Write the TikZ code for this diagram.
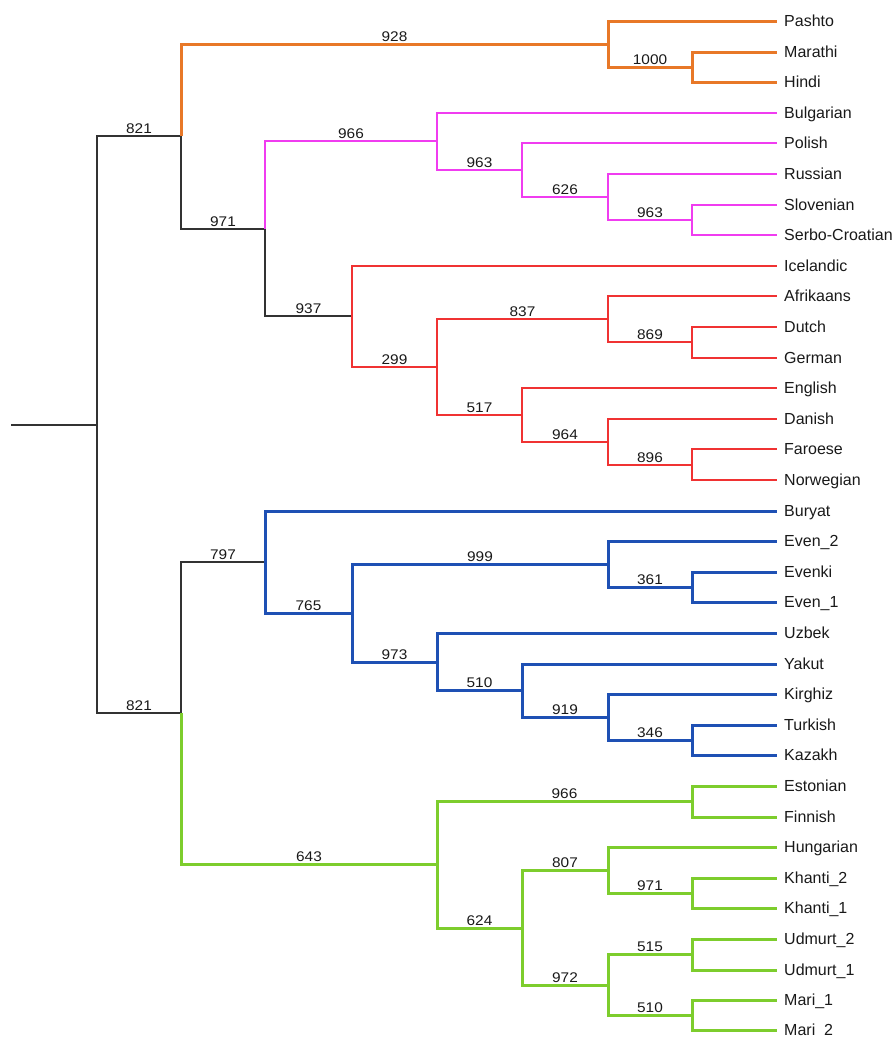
\documentclass[tikz,border=0pt]{standalone}
\usepackage{fontspec}
\setmainfont{Liberation Sans}
\newfontfamily\numfont[FakeStretch=1.1]{Liberation Sans}
\definecolor{cor}{RGB}{232,120,40}
\definecolor{cmag}{RGB}{240,60,240}
\definecolor{cred}{RGB}{240,50,50}
\definecolor{cblu}{RGB}{30,80,180}
\definecolor{cgrn}{RGB}{125,205,45}
\definecolor{cblk}{RGB}{50,50,50}
\definecolor{ctxt}{RGB}{25,25,25}
\tikzset{
  leaf/.style={anchor=west,inner xsep=7pt,inner ysep=0pt,text height=11pt,text depth=0pt,
    font=\fontsize{16}{18}\selectfont,text=ctxt},
  bs/.style={anchor=south,inner sep=1pt,font=\numfont\fontsize{14}{16}\selectfont,text=ctxt,pos=0.75},
  eblk/.style={draw=cblk,line width=2pt},
  eor/.style={draw=cor,line width=3pt},
  emag/.style={draw=cmag,line width=2pt},
  ered/.style={draw=cred,line width=2pt},
  eblu/.style={draw=cblu,line width=3pt},
  egrn/.style={draw=cgrn,line width=3pt},
}
\begin{document}
\begin{tikzpicture}[x=1pt,y=-1pt,line join=miter]
\useasboundingbox (0,0) rectangle (896,1037);
% leaves
\node[leaf] (pashto) at (777,21) {Pashto};
\node[leaf] (marathi) at (777,52) {Marathi};
\node[leaf] (hindi) at (777,82) {Hindi};
\node[leaf] (bulgarian) at (777,113) {Bulgarian};
\node[leaf] (polish) at (777,143) {Polish};
\node[leaf] (russian) at (777,174) {Russian};
\node[leaf] (slovenian) at (777,205) {Slovenian};
\node[leaf] (serbo) at (777,235) {Serbo-Croatian};
\node[leaf] (icelandic) at (777,266) {Icelandic};
\node[leaf] (afrikaans) at (777,296) {Afrikaans};
\node[leaf] (dutch) at (777,327) {Dutch};
\node[leaf] (german) at (777,358) {German};
\node[leaf] (english) at (777,388) {English};
\node[leaf] (danish) at (777,419) {Danish};
\node[leaf] (faroese) at (777,449) {Faroese};
\node[leaf] (norwegian) at (777,480) {Norwegian};
\node[leaf] (buryat) at (777,511) {Buryat};
\node[leaf] (even2) at (777,541) {Even\_2};
\node[leaf] (evenki) at (777,572) {Evenki};
\node[leaf] (even1) at (777,602) {Even\_1};
\node[leaf] (uzbek) at (777,633) {Uzbek};
\node[leaf] (yakut) at (777,664) {Yakut};
\node[leaf] (kirghiz) at (777,694) {Kirghiz};
\node[leaf] (turkish) at (777,725) {Turkish};
\node[leaf] (kazakh) at (777,755) {Kazakh};
\node[leaf] (estonian) at (777,786) {Estonian};
\node[leaf] (finnish) at (777,817) {Finnish};
\node[leaf] (hungarian) at (777,847) {Hungarian};
\node[leaf] (khanti2) at (777,878) {Khanti\_2};
\node[leaf] (khanti1) at (777,908) {Khanti\_1};
\node[leaf] (udmurt2) at (777,939) {Udmurt\_2};
\node[leaf] (udmurt1) at (777,970) {Udmurt\_1};
\node[leaf] (mari1) at (777,1000) {Mari\_1};
\node[leaf] (mari2) at (777,1030) {Mari\_2};
% internal nodes
\coordinate (stub) at (11,425);
\coordinate (root) at (97,425);
\coordinate (A) at (181,136);
\coordinate (II) at (608,44);
\coordinate (MH) at (692,67);
\coordinate (C) at (265,229);
\coordinate (Sl) at (437,141);
\coordinate (E) at (522,170);
\coordinate (F) at (608,197);
\coordinate (G) at (692,220);
\coordinate (D) at (352,316);
\coordinate (H) at (437,367);
\coordinate (I) at (608,319);
\coordinate (J) at (692,342);
\coordinate (K) at (522,415);
\coordinate (L) at (608,442);
\coordinate (M) at (692,465);
\coordinate (B) at (181,713);
\coordinate (N) at (265,562);
\coordinate (O) at (352,613);
\coordinate (P) at (608,564);
\coordinate (Q) at (692,587);
\coordinate (R) at (437,662);
\coordinate (S) at (522,690);
\coordinate (T) at (608,717);
\coordinate (U) at (692,740);
\coordinate (V) at (437,864);
\coordinate (W) at (692,801);
\coordinate (X) at (522,928);
\coordinate (Y) at (608,870);
\coordinate (Z) at (692,893);
\coordinate (AA) at (608,985);
\coordinate (BB) at (692,954);
\coordinate (CC) at (692,1015);
% black backbone
\draw[eblk] (stub) -- (root);
\draw[eblk] (root) |- node[bs]{821} (A);
\draw[eblk] (root) |- node[bs]{821} (B);
\draw[eblk] (A) |- node[bs]{971} (C);
\draw[eblk] (C) |- node[bs]{937} (D);
\draw[eblk] (B) |- node[bs]{797} (N);
% orange
\draw[eor] (A) |- node[bs]{928} (II);
\draw[eor] (II) |- (pashto.west);
\draw[eor] (II) |- node[bs]{1000} (MH);
\draw[eor] (MH) |- (marathi.west);
\draw[eor] (MH) |- (hindi.west);
% magenta
\draw[emag] (C) |- node[bs]{966} (Sl);
\draw[emag] (Sl) |- (bulgarian.west);
\draw[emag] (Sl) |- node[bs]{963} (E);
\draw[emag] (E) |- (polish.west);
\draw[emag] (E) |- node[bs]{626} (F);
\draw[emag] (F) |- (russian.west);
\draw[emag] (F) |- node[bs]{963} (G);
\draw[emag] (G) |- (slovenian.west);
\draw[emag] (G) |- (serbo.west);
% red
\draw[ered] (D) |- (icelandic.west);
\draw[ered] (D) |- node[bs]{299} (H);
\draw[ered] (H) |- node[bs]{837} (I);
\draw[ered] (I) |- (afrikaans.west);
\draw[ered] (I) |- node[bs]{869} (J);
\draw[ered] (J) |- (dutch.west);
\draw[ered] (J) |- (german.west);
\draw[ered] (H) |- node[bs]{517} (K);
\draw[ered] (K) |- (english.west);
\draw[ered] (K) |- node[bs]{964} (L);
\draw[ered] (L) |- (danish.west);
\draw[ered] (L) |- node[bs]{896} (M);
\draw[ered] (M) |- (faroese.west);
\draw[ered] (M) |- (norwegian.west);
% blue
\draw[eblu] (N) |- (buryat.west);
\draw[eblu] (N) |- node[bs]{765} (O);
\draw[eblu] (O) |- node[bs]{999} (P);
\draw[eblu] (P) |- (even2.west);
\draw[eblu] (P) |- node[bs]{361} (Q);
\draw[eblu] (Q) |- (evenki.west);
\draw[eblu] (Q) |- (even1.west);
\draw[eblu] (O) |- node[bs]{973} (R);
\draw[eblu] (R) |- (uzbek.west);
\draw[eblu] (R) |- node[bs]{510} (S);
\draw[eblu] (S) |- (yakut.west);
\draw[eblu] (S) |- node[bs]{919} (T);
\draw[eblu] (T) |- (kirghiz.west);
\draw[eblu] (T) |- node[bs]{346} (U);
\draw[eblu] (U) |- (turkish.west);
\draw[eblu] (U) |- (kazakh.west);
% green
\draw[egrn] (B) |- node[bs]{643} (V);
\draw[egrn] (V) |- node[bs]{966} (W);
\draw[egrn] (W) |- (estonian.west);
\draw[egrn] (W) |- (finnish.west);
\draw[egrn] (V) |- node[bs]{624} (X);
\draw[egrn] (X) |- node[bs]{807} (Y);
\draw[egrn] (Y) |- (hungarian.west);
\draw[egrn] (Y) |- node[bs]{971} (Z);
\draw[egrn] (Z) |- (khanti2.west);
\draw[egrn] (Z) |- (khanti1.west);
\draw[egrn] (X) |- node[bs]{972} (AA);
\draw[egrn] (AA) |- node[bs]{515} (BB);
\draw[egrn] (BB) |- (udmurt2.west);
\draw[egrn] (BB) |- (udmurt1.west);
\draw[egrn] (AA) |- node[bs]{510} (CC);
\draw[egrn] (CC) |- (mari1.west);
\draw[egrn] (CC) |- (mari2.west);
\end{tikzpicture}
\end{document}
